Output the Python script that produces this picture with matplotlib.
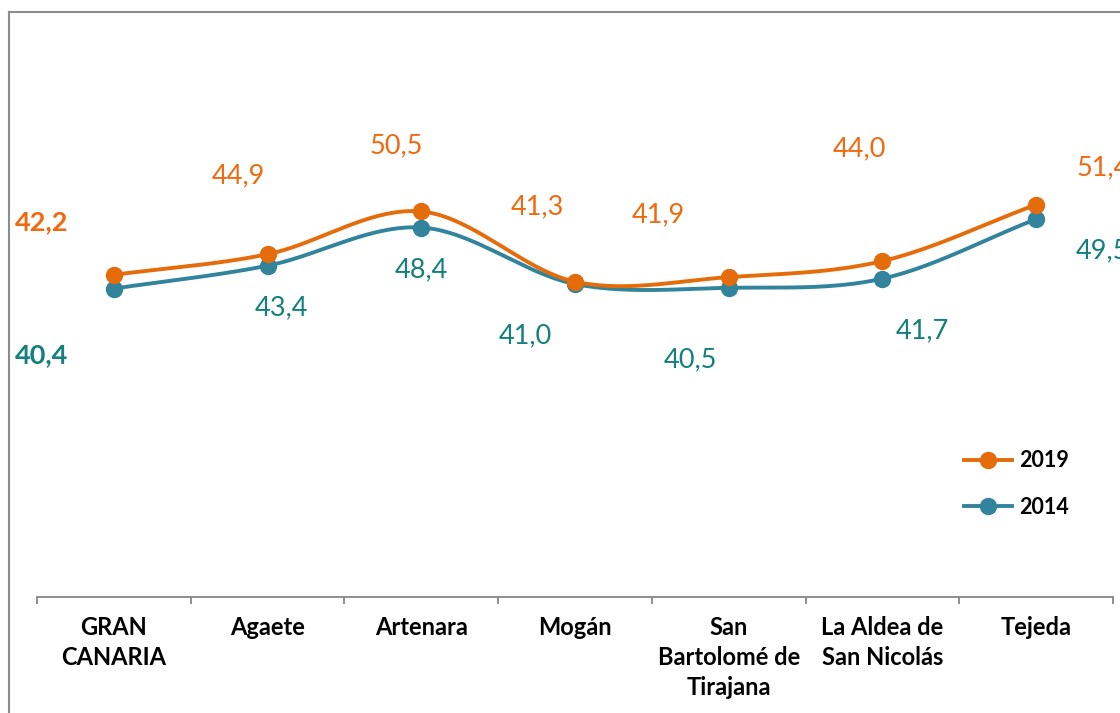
import numpy as np
import matplotlib
matplotlib.use("Agg")
import matplotlib.pyplot as plt
from matplotlib.lines import Line2D

plt.rcParams['font.family'] = ['Lato', 'DejaVu Sans']

# data
categories = ["GRAN\nCANARIA", "Agaete", "Artenara", "Mogán",
              "San\nBartolomé de\nTirajana", "La Aldea de\nSan Nicolás", "Tejeda"]
values_2019 = [42.2, 44.9, 50.5, 41.3, 41.9, 44.0, 51.4]
values_2014 = [40.4, 43.4, 48.4, 41.0, 40.5, 41.7, 49.5]
labels_2019 = ["42,2", "44,9", "50,5", "41,3", "41,9", "44,0", "51,4"]
labels_2014 = ["40,4", "43,4", "48,4", "41,0", "40,5", "41,7", "49,5"]

# label offsets in pixels (hand placed, like the original)
offs_2019 = [(-72, 53), (-29, 78), (-25, 66), (-38, 75), (-70, 62), (-23, 112), (67, 37)]
offs_2014 = [(-72, -67), (14, -42), (0, -42), (-50, -52), (-38, -72), (40, -52), (66, -32)]

c19_line, c19_text = '#E46C0A', '#F0690F'
c14_line, c14_text = '#31849B', '#12807E'


def catmull_rom(x, y, n=40):
    # smooth curve through the points, roughly like Excel's smoothed line
    px = np.concatenate([[2 * x[0] - x[1]], x, [2 * x[-1] - x[-2]]])
    py = np.concatenate([[2 * y[0] - y[1]], y, [2 * y[-1] - y[-2]]])
    xs, ys = [], []
    t = np.linspace(0, 1, n)
    for i in range(1, len(px) - 2):
        for p, out in ((px, xs), (py, ys)):
            p0, p1, p2, p3 = p[i - 1], p[i], p[i + 1], p[i + 2]
            out.extend(0.5 * ((2 * p1) + (-p0 + p2) * t
                              + (2 * p0 - 5 * p1 + 4 * p2 - p3) * t ** 2
                              + (-p0 + 3 * p1 - 3 * p2 + p3) * t ** 3))
    return np.array(xs), np.array(ys)


fig = plt.figure(figsize=(11.2, 7.13), dpi=100)
ax = fig.add_axes([37 / 1120, 116 / 713, 1076 / 1120, 597 / 713])

x = np.arange(len(categories))
for vals, lc in ((values_2014, c14_line), (values_2019, c19_line)):
    sx, sy = catmull_rom(x.astype(float), np.array(vals))
    ax.plot(sx, sy, color=lc, lw=2.8, solid_capstyle='round', zorder=2)
    ax.plot(x, vals, 'o', color=lc, ms=11.5, zorder=3)

for vals, labs, offs, tc in ((values_2019, labels_2019, offs_2019, c19_text),
                             (values_2014, labels_2014, offs_2014, c14_text)):
    for i, (v, lab, off) in enumerate(zip(vals, labs, offs)):
        ax.annotate(lab, (i, v), xytext=off, textcoords='offset pixels',
                    ha='center', va='center', color=tc, fontsize=19.5,
                    fontweight='bold' if i == 0 else 'normal',
                    annotation_clip=False)

ax.set_xlim(-0.5, len(categories) - 0.5)
ax.set_ylim(0, 78.2)
ax.set_yticks([])
for s in ('top', 'right', 'left'):
    ax.spines[s].set_visible(False)
ax.spines['bottom'].set_color('#868686')
ax.spines['bottom'].set_linewidth(1.3)
ax.set_xticks(x)
ax.set_xticklabels(categories, fontsize=17, fontweight='bold', linespacing=1.36,
                   va='top')
ax.tick_params(axis='x', which='major', length=0, pad=14)
ax.set_xticks(np.arange(-0.5, len(categories)), minor=True)
ax.tick_params(axis='x', which='minor', length=5, width=1.3, color='#868686')

handles = [Line2D([], [], color=c19_line, lw=2.8, marker='o', ms=11.5),
           Line2D([], [], color=c14_line, lw=2.8, marker='o', ms=11.5)]
leg = fig.legend(handles, ['2019', '2014'], loc='center left',
                 bbox_to_anchor=(945 / 1120, 1 - 484 / 713), frameon=False,
                 prop={'weight': 'bold', 'size': 15.5}, handlelength=2.2,
                 handletextpad=0.35, labelspacing=1.2)

# chart border (only top and left visible in the crop)
fig.add_artist(Line2D([9 / 1120, 1], [1 - 12 / 713] * 2, color='#8C8C8C', lw=1.5))
fig.add_artist(Line2D([9 / 1120] * 2, [0, 1 - 12 / 713], color='#8C8C8C', lw=1.5))

fig.savefig('out.png', dpi=100)
